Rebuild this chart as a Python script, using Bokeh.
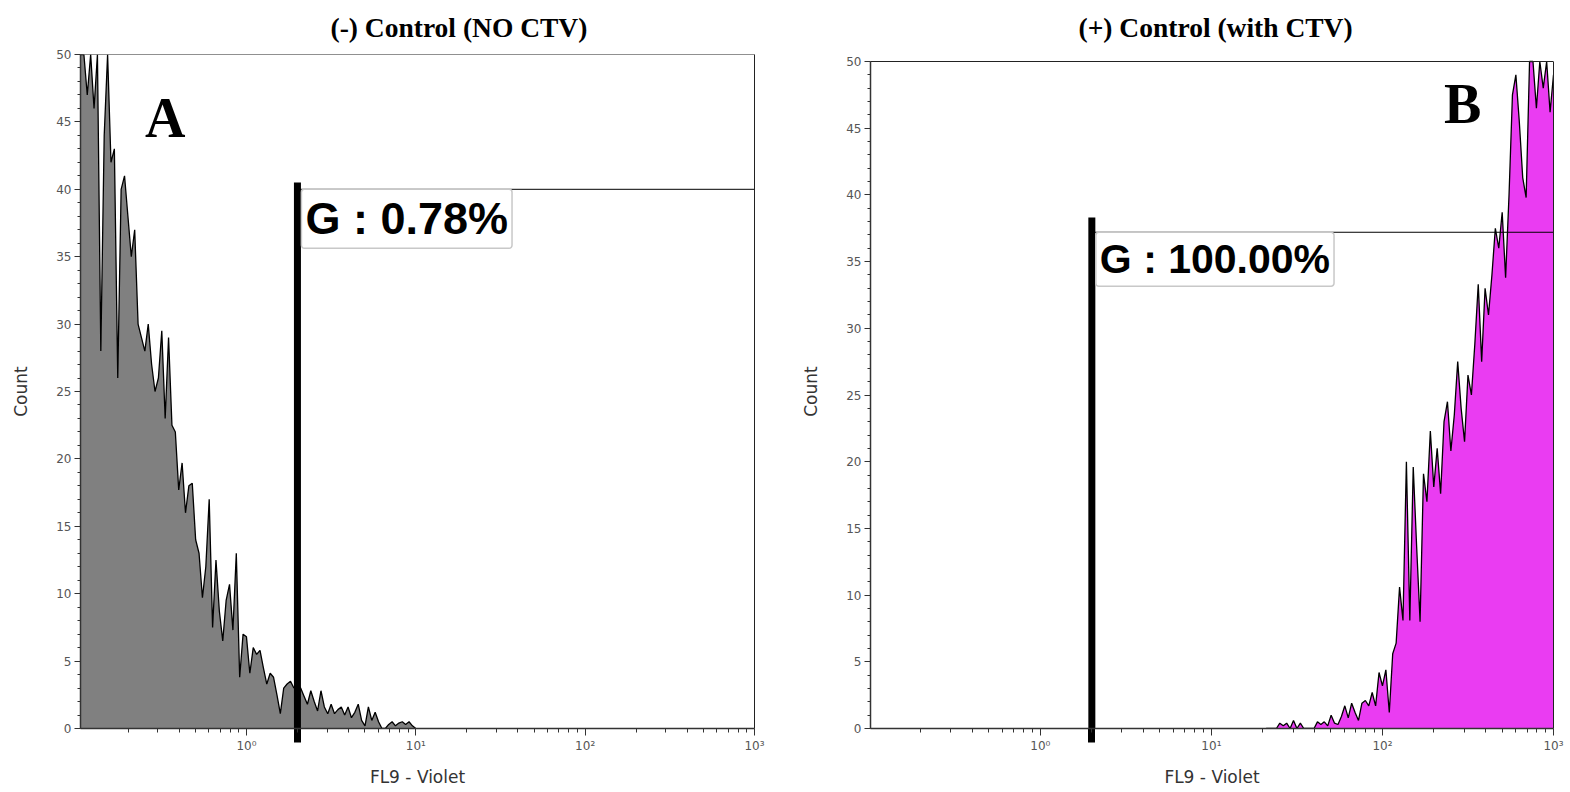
import numpy as np
from bokeh.plotting import figure
from bokeh.layouts import row
from bokeh.models import FixedTicker, Label, LogAxis, LinearAxis, Span
from bokeh.embed import file_html
from bokeh.resources import INLINE

# ---------------- data ----------------
titles = ["(-) Control (NO CTV)", "(+) Control (with CTV)"]
panel_letters = ["A", "B"]
x_label = "FL9 - Violet"
y_label = "Count"
x_tick_labels = {1: "10\u2070", 10: "10\u00b9", 100: "10\u00b2", 1000: "10\u00b3"}

# histogram counts, one value per log bin (0.02 decade wide)
bin_width_log = 0.02
log_start_a = -0.98
counts_a = [58, 54, 47, 55, 46, 52, 28, 44, 56, 42,
            43, 26, 40, 41, 38, 35, 37, 30, 29, 28,
            30, 27, 25, 26, 29.5, 23, 29, 22.5, 22, 17.7,
            19.7, 16, 18, 18.2, 14, 13, 9.7, 12, 17, 7.5,
            12.5, 8.7, 6.5, 9.5, 10.7, 7.3, 13, 3.8, 7, 6.8,
            4.1, 6, 5.5, 5.8, 4.5, 3.3, 4.1, 3.8, 2.5, 1.1,
            3, 3.3, 3.5, 3.0, 3.3, 3, 2.4, 1.8, 2.8, 2.0,
            1.3, 2.8, 1.6, 1.1, 1.8, 1.1, 1.4, 1.6, 1.0, 1.6,
            0.8, 1.2, 1.8, 0.6, 0.2, 1.6, 0.6, 1.2, 0.5, 0,
            0, 0.3, 0.5, 0.2, 0.4, 0.5, 0.3, 0.5, 0.2, 0]

log_start_b = 1.32
counts_b = [0, 0, 0, 0, 0.4, 0.2, 0.4, 0, 0.6, 0,
            0.4, 0, 0, 0, 0, 0.5, 0.3, 0.5, 0.2, 1.0,
            0.4, 0.3, 0.9, 1.7, 0.8, 1.9, 1.2, 0.6, 1.9, 2.1,
            1.7, 2.7, 1.7, 4.2, 3.2, 4.4, 1.2, 5.6, 6.4, 10.6,
            8.1, 20, 8.1, 19.6, 13.6, 8, 19.1, 17, 22.3, 18.1,
            21, 17.6, 23, 24.5, 20.8, 23.5, 27.5, 24, 21.5, 26.5,
            25, 28.8, 33.3, 27.5, 33, 31, 34, 37.5, 36, 38.7,
            33.8, 40, 47.5, 49, 45.5, 41.3, 39.8, 52, 52, 46.5,
            52, 48, 52, 46.2, 49]

gate_low = [2.0, 2.0]
gate_level = [40.0, 37.2]
gate_text = ["G : 0.78%", "G : 100.00%"]
fill_colors = ["#808080", "#EA3CF2"]

Y_MAX = 50  # top of the count axis; taller bins are cut off there


def make_panel(idx, counts, log_start, x_start, y_end, width, borders,
               title_offset, gate_top, gate_font, letter_pos):
    p = figure(width=width, height=792, x_axis_type="log",
               x_range=(x_start, 1000), y_range=(0, y_end),
               output_backend="svg", toolbar_location=None,
               min_border_left=borders[0], min_border_right=borders[1],
               min_border_top=borders[2], min_border_bottom=borders[3])
    p.background_fill_color = "white"
    p.border_fill_color = "white"
    p.outline_line_color = None
    p.grid.visible = False

    # title
    p.title.text = titles[idx]
    p.title.align = "left"
    p.title.offset = title_offset
    p.title.standoff = 20
    p.title.vertical_align = "top"
    p.title.text_font = "Liberation Serif"
    p.title.text_font_style = "bold"
    p.title.text_font_size = "27.5px"
    p.title.text_color = "black"

    # axes
    minor = [m * 10.0 ** k for k in range(-1, 3) for m in range(2, 10)]
    xax = p.xaxis[0]
    xax.ticker = FixedTicker(ticks=[1, 10, 100, 1000], minor_ticks=minor)
    xax.major_label_overrides = x_tick_labels
    p.yaxis.ticker = FixedTicker(ticks=list(range(0, 51, 5)),
                                 minor_ticks=list(range(0, 51)))
    p.yaxis.bounds = (0, Y_MAX)
    for ax in (xax, p.yaxis[0]):
        ax.axis_line_color = "#333333"
        ax.axis_line_width = 1.5
        ax.major_tick_line_color = "#333333"
        ax.minor_tick_line_color = "#333333"
        ax.major_tick_in = 0
        ax.minor_tick_in = 0
        ax.major_label_text_font = "DejaVu Sans"
        ax.major_label_text_font_size = "12px"
        ax.major_label_text_color = "#555555"
        ax.axis_label_text_font = "DejaVu Sans"
        ax.axis_label_text_font_size = "17px"
        ax.axis_label_text_font_style = "normal"
        ax.axis_label_text_color = "#333333"
    xax.major_tick_out = 7
    xax.minor_tick_out = 4
    p.yaxis.major_tick_out = 6
    p.yaxis.minor_tick_out = 3
    p.yaxis.major_label_standoff = 3
    xax.major_label_standoff = 3
    xax.axis_label = x_label
    p.yaxis.axis_label = y_label
    xax.axis_label_standoff = 11
    p.yaxis.axis_label_standoff = 22

    # frame border: top and right
    p.add_layout(Span(location=Y_MAX, dimension="width", line_color="#222222",
                      line_width=1))
    rax = LinearAxis(ticker=FixedTicker(ticks=[]), bounds=(0, Y_MAX),
                     axis_line_color="#222222", axis_line_width=1,
                     major_tick_line_color=None, minor_tick_line_color=None)
    p.add_layout(rax, "right")

    # histogram
    xs = 10.0 ** (log_start + bin_width_log * np.arange(len(counts)))
    ys = np.minimum(np.array(counts, dtype=float), Y_MAX)
    p.varea(x=xs, y1=np.zeros_like(ys), y2=ys, fill_color=fill_colors[idx])
    p.line(x=xs, y=ys, line_color="black", line_width=1.3)

    # gate: thick marker line
    p.segment(x0=[gate_low[idx]], y0=[0], x1=[gate_low[idx]], y1=[gate_top],
              line_color="black", line_width=7)
    # stub of the gate marker below the axis: an axis whose only tick points down
    gax = LogAxis(ticker=FixedTicker(ticks=[gate_low[idx]], minor_ticks=[]),
                  major_label_overrides={gate_low[idx]: ""},
                  major_label_text_font_size="1px", major_label_standoff=0,
                  major_tick_out=0, major_tick_in=-14,
                  major_tick_line_width=7, major_tick_line_color="black",
                  minor_tick_line_color=None, axis_line_color=None)
    p.below = [gax, xax]
    p.segment(x0=[gate_low[idx]], y0=[gate_level[idx]], x1=[1000],
              y1=[gate_level[idx]], line_color="black", line_width=1)
    p.add_layout(Label(x=gate_low[idx], y=gate_level[idx], text=gate_text[idx],
                       x_offset=4, y_offset=0,
                       text_font="Liberation Sans", text_font_style="bold",
                       text_font_size=gate_font, text_color="black",
                       text_align="left", text_baseline="top",
                       border_line_color="#c8c8c8", border_line_width=1.5,
                       background_fill_color="white", padding=4,
                       border_radius=3))
    # panel letter
    p.add_layout(Label(x=letter_pos[0], y=letter_pos[1], text=panel_letters[idx],
                       text_font="Liberation Serif", text_font_style="bold",
                       text_font_size="56px", text_color="black",
                       text_align="center", text_baseline="middle"))
    return p


pa = make_panel(0, counts_a, log_start_a, 10 ** -0.98, 50.0, 785,
                (80, 31, 54, 64), 250, 40.5, "45px", (10 ** -0.48, 45.3))
pb = make_panel(1, counts_b, log_start_b, 10 ** -0.993, 50.525, 785,
                (85, 17, 54, 64), 208, 38.3, "41px", (10 ** 2.469, 46.8))

layout = row(pa, pb)
open("out.html", "w").write(file_html(layout, INLINE))
